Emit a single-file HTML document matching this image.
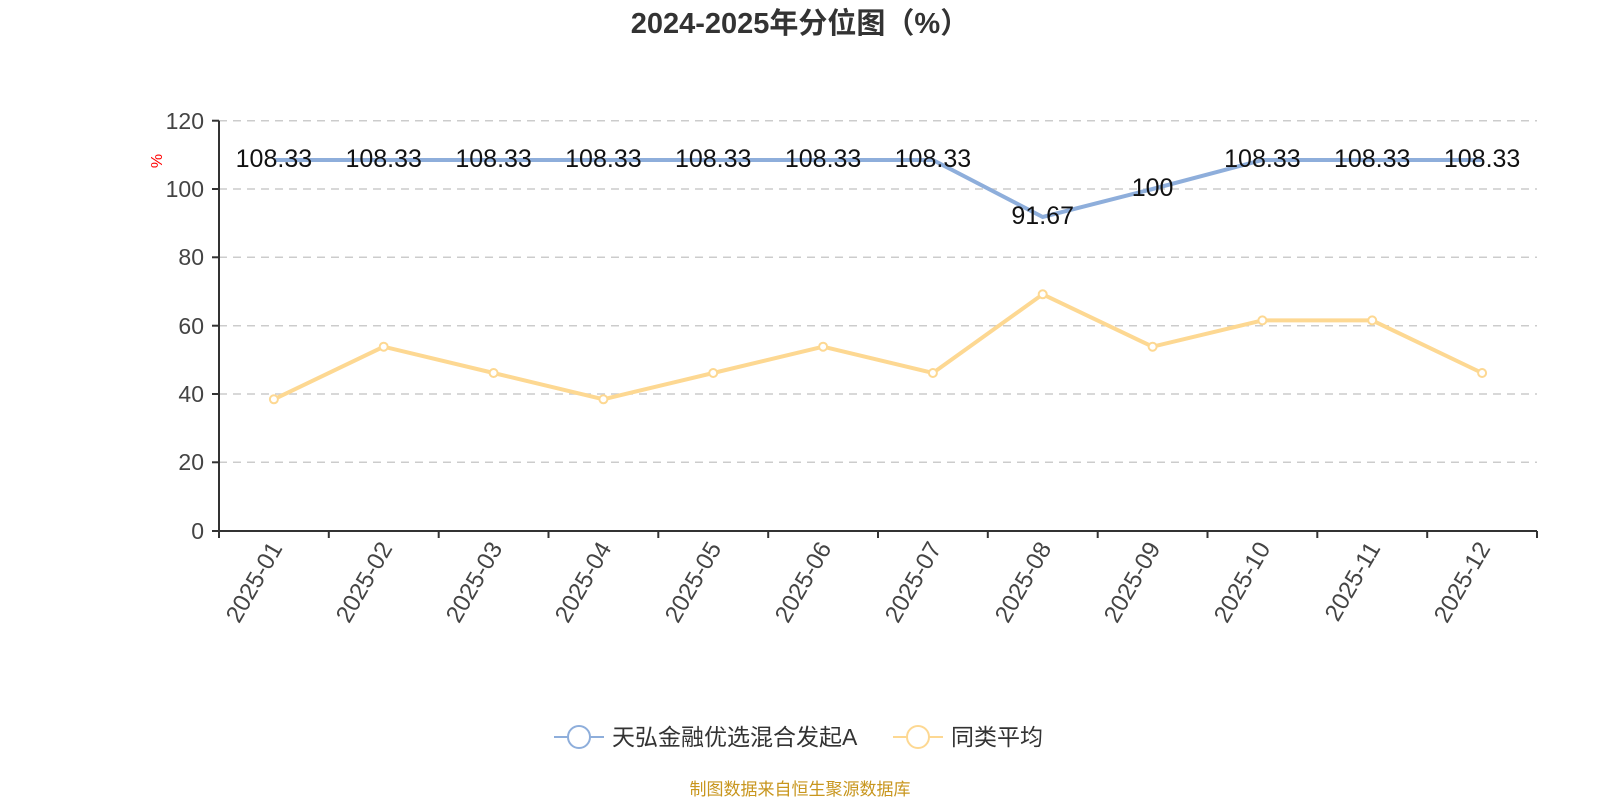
<!DOCTYPE html>
<html><head><meta charset="utf-8"><style>
html,body{margin:0;padding:0;background:#fff;}
svg{display:block;font-family:"Liberation Sans","Noto Sans CJK SC",sans-serif;}
</style></head><body>
<svg width="1600" height="800" viewBox="0 0 1600 800" xmlns="http://www.w3.org/2000/svg">
<text x="800" y="33" text-anchor="middle" font-size="29" font-weight="bold" fill="#333">2024-2025年分位图（%）</text>
<g stroke="#ccc" stroke-width="1.5" stroke-dasharray="8,6">
<line x1="219" x2="1537" y1="120.7" y2="120.7"/>
<line x1="219" x2="1537" y1="189" y2="189"/>
<line x1="219" x2="1537" y1="257.3" y2="257.3"/>
<line x1="219" x2="1537" y1="325.7" y2="325.7"/>
<line x1="219" x2="1537" y1="394" y2="394"/>
<line x1="219" x2="1537" y1="462.3" y2="462.3"/>
</g>
<g stroke="#333" stroke-width="2">
<line x1="219" x2="219" y1="120.7" y2="531"/>
<line x1="219" x2="1537" y1="531" y2="531"/>
<line x1="212" x2="219" y1="120.7" y2="120.7"/><line x1="212" x2="219" y1="189" y2="189"/>
<line x1="212" x2="219" y1="257.3" y2="257.3"/><line x1="212" x2="219" y1="325.7" y2="325.7"/>
<line x1="212" x2="219" y1="394" y2="394"/><line x1="212" x2="219" y1="462.3" y2="462.3"/>
<line x1="212" x2="219" y1="531" y2="531"/>
<line x1="219" x2="219" y1="531" y2="538"/><line x1="328.8" x2="328.8" y1="531" y2="538"/>
<line x1="438.7" x2="438.7" y1="531" y2="538"/><line x1="548.5" x2="548.5" y1="531" y2="538"/>
<line x1="658.3" x2="658.3" y1="531" y2="538"/><line x1="768.2" x2="768.2" y1="531" y2="538"/>
<line x1="878" x2="878" y1="531" y2="538"/><line x1="987.8" x2="987.8" y1="531" y2="538"/>
<line x1="1097.7" x2="1097.7" y1="531" y2="538"/><line x1="1207.5" x2="1207.5" y1="531" y2="538"/>
<line x1="1317.3" x2="1317.3" y1="531" y2="538"/><line x1="1427.2" x2="1427.2" y1="531" y2="538"/>
<line x1="1537" x2="1537" y1="531" y2="538"/>
</g>
<g font-size="23" fill="#444" text-anchor="end">
<text x="204" y="129">120</text><text x="204" y="197">100</text><text x="204" y="265">80</text>
<text x="204" y="334">60</text><text x="204" y="402">40</text><text x="204" y="470">20</text><text x="204" y="539">0</text>
</g>
<text transform="translate(162,161) rotate(-90)" text-anchor="middle" font-size="16" fill="red">%</text>
<g font-size="24" fill="#444" text-anchor="end">
<text transform="translate(283,548) rotate(-60)">2025-01</text>
<text transform="translate(393,548) rotate(-60)">2025-02</text>
<text transform="translate(503,548) rotate(-60)">2025-03</text>
<text transform="translate(612,548) rotate(-60)">2025-04</text>
<text transform="translate(722,548) rotate(-60)">2025-05</text>
<text transform="translate(832,548) rotate(-60)">2025-06</text>
<text transform="translate(942,548) rotate(-60)">2025-07</text>
<text transform="translate(1052,548) rotate(-60)">2025-08</text>
<text transform="translate(1161,548) rotate(-60)">2025-09</text>
<text transform="translate(1271,548) rotate(-60)">2025-10</text>
<text transform="translate(1381,548) rotate(-60)">2025-11</text>
<text transform="translate(1491,548) rotate(-60)">2025-12</text>
</g>
<polyline fill="none" stroke="#8eaedb" stroke-width="4" points="273.9,160 383.7,160 493.6,160 603.4,160 713.2,160 823.1,160 932.9,160 1042.7,217 1152.6,189 1262.4,160 1372.2,160 1482.1,160"/>
<polyline fill="none" stroke="#fdd892" stroke-width="4" points="273.9,399.3 383.7,346.7 493.6,373 603.4,399.3 713.2,373 823.1,346.7 932.9,373 1042.7,294.3 1152.6,346.7 1262.4,320.4 1372.2,320.4 1482.1,373"/>
<g fill="#fff" stroke="#fdd892" stroke-width="2">
<circle cx="273.9" cy="399.3" r="4"/><circle cx="383.7" cy="346.7" r="4"/><circle cx="493.6" cy="373" r="4"/>
<circle cx="603.4" cy="399.3" r="4"/><circle cx="713.2" cy="373" r="4"/><circle cx="823.1" cy="346.7" r="4"/>
<circle cx="932.9" cy="373" r="4"/><circle cx="1042.7" cy="294.3" r="4"/><circle cx="1152.6" cy="346.7" r="4"/>
<circle cx="1262.4" cy="320.4" r="4"/><circle cx="1372.2" cy="320.4" r="4"/><circle cx="1482.1" cy="373" r="4"/>
</g>
<g font-size="25" fill="#111" text-anchor="middle">
<text x="273.9" y="167">108.33</text><text x="383.7" y="167">108.33</text><text x="493.6" y="167">108.33</text>
<text x="603.4" y="167">108.33</text><text x="713.2" y="167">108.33</text><text x="823.1" y="167">108.33</text>
<text x="932.9" y="167">108.33</text><text x="1042.7" y="224">91.67</text><text x="1152.6" y="196">100</text>
<text x="1262.4" y="167">108.33</text><text x="1372.2" y="167">108.33</text><text x="1482.1" y="167">108.33</text>
</g>
<line x1="554" x2="604" y1="737" y2="737" stroke="#8eaedb" stroke-width="2"/>
<circle cx="579" cy="737" r="11" fill="#fff" stroke="#8eaedb" stroke-width="2"/>
<text x="612" y="745" font-size="23" fill="#333">天弘金融优选混合发起A</text>
<line x1="893" x2="943" y1="737" y2="737" stroke="#fdd892" stroke-width="2"/>
<circle cx="918" cy="737" r="11" fill="#fff" stroke="#fdd892" stroke-width="2"/>
<text x="951" y="745" font-size="23" fill="#333">同类平均</text>
<text x="800" y="795" text-anchor="middle" font-size="17" fill="#c8961e">制图数据来自恒生聚源数据库</text>
</svg>
</body></html>
